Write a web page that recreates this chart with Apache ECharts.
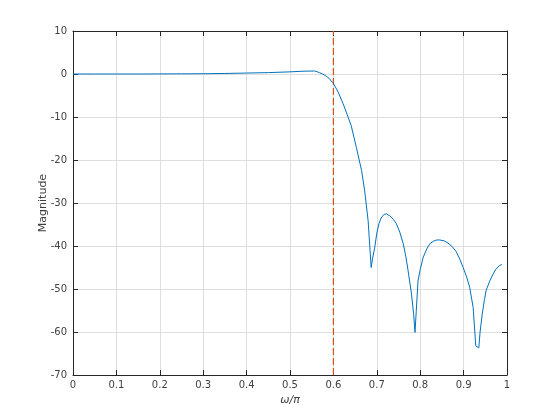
<!DOCTYPE html>
<html>
<head>
<meta charset="utf-8">
<script src="https://cdn.jsdelivr.net/npm/echarts@6/dist/echarts.min.js"></script>
<style>html,body{margin:0;padding:0;background:#fff}#c{width:560px;height:420px}</style>
</head>
<body>
<div id="c"></div>
<script>
const freq = [0, 0.05, 0.1, 0.15, 0.2, 0.25, 0.3, 0.35, 0.4, 0.45, 0.5, 0.53, 0.556, 0.562, 0.568, 0.575, 0.582, 0.59, 0.6, 0.61, 0.622, 0.632, 0.641, 0.653, 0.665, 0.672, 0.68, 0.684, 0.687, 0.69, 0.695, 0.7, 0.705, 0.71, 0.716, 0.722, 0.73, 0.738, 0.745, 0.753, 0.761, 0.767, 0.772, 0.78, 0.785, 0.788, 0.791, 0.795, 0.8, 0.807, 0.815, 0.822, 0.83, 0.838, 0.845, 0.855, 0.864, 0.874, 0.883, 0.891, 0.899, 0.907, 0.914, 0.922, 0.928, 0.935, 0.938, 0.943, 0.948, 0.952, 0.96, 0.968, 0.975, 0.982, 0.988];
const magnitude = [0, 0, 0, 0, 0.02, 0.04, 0.06, 0.12, 0.22, 0.32, 0.5, 0.65, 0.7, 0.55, 0.3, 0, -0.4, -1.0, -2.2, -4.0, -6.8, -9.5, -12.0, -17.1, -22.5, -27.1, -34.1, -40.3, -45.0, -43.0, -40.5, -37.0, -34.8, -33.5, -32.7, -32.5, -33.0, -33.8, -34.8, -36.8, -39.5, -42.5, -45.7, -51.2, -56.0, -60.1, -55.0, -48.1, -45.5, -42.6, -40.7, -39.5, -38.9, -38.6, -38.6, -38.8, -39.3, -40.2, -41.3, -43.0, -45.0, -47.2, -49.6, -54.3, -63.2, -63.7, -60.0, -55.8, -52.5, -50.3, -48.2, -46.5, -45.3, -44.6, -44.3];
const cutoff = 0.6;
const xTicks = [0, 0.1, 0.2, 0.3, 0.4, 0.5, 0.6, 0.7, 0.8, 0.9, 1];
const yTicks = [-70, -60, -50, -40, -30, -20, -10, 0, 10];

const axisCol = '#262626';
const labelCol = '#404040';
const font = 'DejaVu Sans';
const chart = echarts.init(document.getElementById('c'), null, {renderer: 'canvas'});
const line = freq.map((f, i) => [f, magnitude[i]]);
const baseX = {
  type: 'value', min: xTicks[0], max: xTicks[xTicks.length - 1], interval: 0.1,
  axisLine: {show: true, onZero: false, lineStyle: {color: axisCol, width: 1}},
  axisTick: {show: true, inside: true, length: 5, lineStyle: {color: axisCol}},
  splitLine: {show: false}
};
const baseY = {
  type: 'value', min: yTicks[0], max: yTicks[yTicks.length - 1], interval: 10,
  axisLine: {show: true, onZero: false, lineStyle: {color: axisCol, width: 1}},
  axisTick: {show: true, inside: true, length: 5, lineStyle: {color: axisCol}},
  splitLine: {show: false}
};
chart.setOption({
  animation: false,
  backgroundColor: '#fff',
  grid: {left: 73, right: 53, top: 31, bottom: 45, containLabel: false},
  xAxis: [
    Object.assign({}, baseX, {
      position: 'bottom',
      name: 'ω/π', nameLocation: 'middle', nameGap: 20, nameMoveOverlap: false,
      nameTextStyle: {color: labelCol, fontFamily: font, fontSize: 11, fontStyle: 'italic'},
      axisLabel: {color: labelCol, fontFamily: font, fontSize: 10, margin: 5,
        formatter: v => String(Math.round(v * 10) / 10)},
      splitLine: {show: true, lineStyle: {color: '#dedede', width: 1}}
    }),
    Object.assign({}, baseX, {position: 'top', axisLabel: {show: false}})
  ],
  yAxis: [
    Object.assign({}, baseY, {
      position: 'left',
      name: 'Magnitude', nameLocation: 'middle', nameGap: 24, nameMoveOverlap: false,
      nameTextStyle: {color: labelCol, fontFamily: font, fontSize: 11},
      axisLabel: {color: labelCol, fontFamily: font, fontSize: 10, margin: 6},
      splitLine: {show: true, lineStyle: {color: '#dedede', width: 1}}
    }),
    Object.assign({}, baseY, {position: 'right', axisLabel: {show: false}})
  ],
  series: [
    {
      type: 'line', data: line, showSymbol: false, symbol: 'none',
      lineStyle: {color: '#0072BD', width: 1}, z: 3
    },
    {
      type: 'line', data: [[cutoff, yTicks[0]], [cutoff, yTicks[yTicks.length - 1]]],
      showSymbol: false, symbol: 'none',
      lineStyle: {color: '#D95319', width: 1.2, type: [7, 3]}, z: 2
    }
  ]
});
</script>
</body>
</html>
